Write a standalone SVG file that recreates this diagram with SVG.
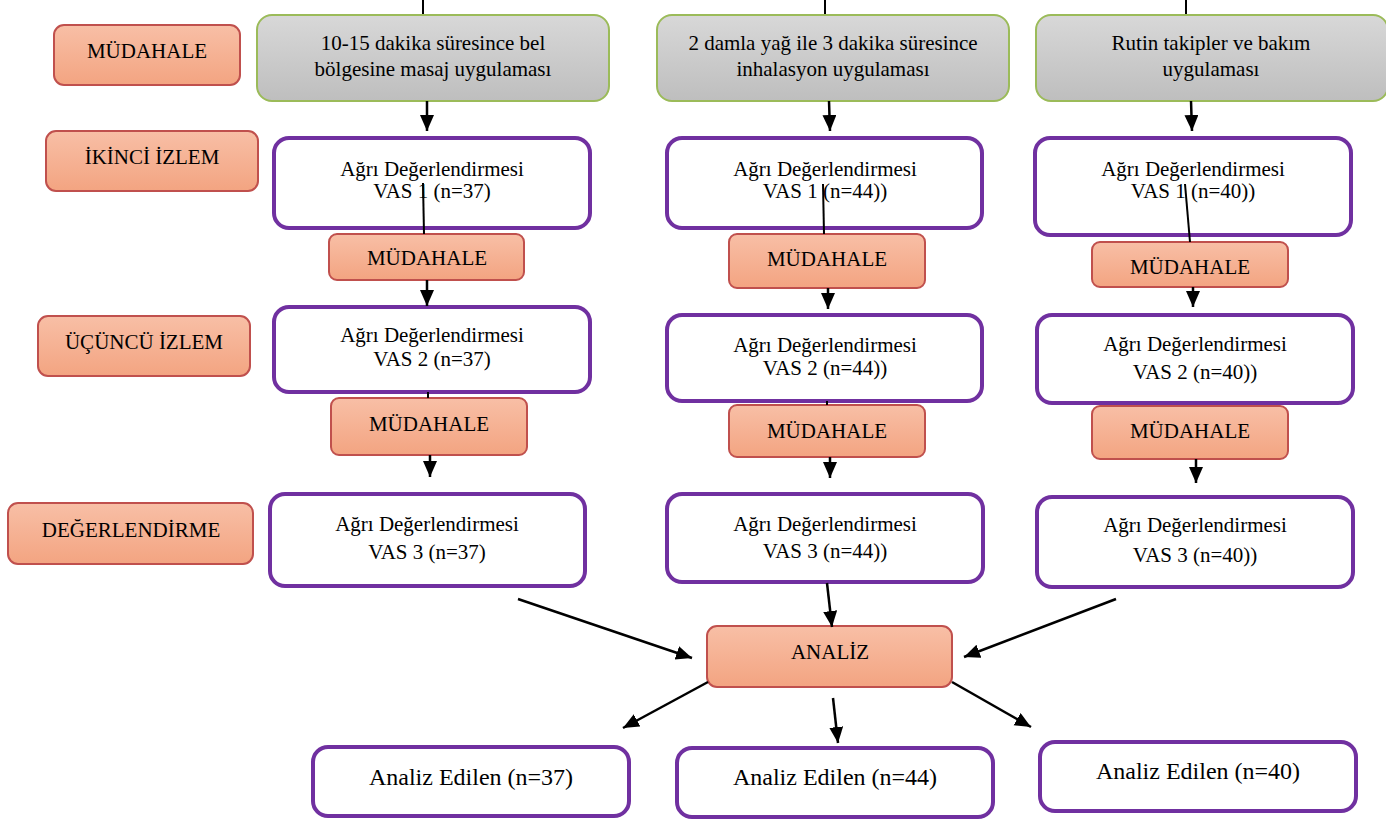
<svg xmlns="http://www.w3.org/2000/svg" width="1386" height="819" viewBox="0 0 1386 819">
<defs>
<linearGradient id="gOr" x1="0" y1="0" x2="0" y2="1">
<stop offset="0" stop-color="#F8BFA6"/><stop offset="1" stop-color="#F3A481"/>
</linearGradient>
<linearGradient id="gGr" x1="0" y1="0" x2="0" y2="1">
<stop offset="0" stop-color="#D8D8D8"/><stop offset="1" stop-color="#BEBEBE"/>
</linearGradient>
<marker id="ah" markerUnits="userSpaceOnUse" markerWidth="17" markerHeight="15" refX="16" refY="7" orient="auto">
<path d="M0,0 L16,7 L0,14 Z" fill="#000"/>
</marker>
</defs>
<style>
.or{fill:url(#gOr);stroke:#C0504D;stroke-width:2}
.gr{fill:url(#gGr);stroke:#9BBB59;stroke-width:2}
.pu{fill:#fff;stroke:#7030A0;stroke-width:4}
text{font-family:"Liberation Serif","Times New Roman",serif;font-size:21px;fill:#000;text-anchor:middle}
.big{font-size:24px}
.ln{stroke:#000;stroke-width:2;fill:none}
.ar{stroke:#000;stroke-width:2.5;fill:none;marker-end:url(#ah)}
</style>

<g id="lbl-mudahale"><rect class="or" x="54" y="25" width="186" height="60" rx="10"/><text x="147" y="58">MÜDAHALE</text></g>
<g id="lbl-ikinci"><rect class="or" x="46" y="131" width="212" height="60" rx="10"/><text x="152" y="164">İKİNCİ İZLEM</text></g>
<g id="lbl-ucuncu"><rect class="or" x="38" y="316" width="212" height="60" rx="10"/><text x="144" y="349">ÜÇÜNCÜ İZLEM</text></g>
<g id="lbl-deger"><rect class="or" x="8" y="503" width="245" height="61" rx="10"/><text x="131" y="537">DEĞERLENDİRME</text></g>

<g id="g1"><rect class="gr" x="257" y="15" width="352" height="86" rx="15"/><text x="433" y="50">10-15 dakika süresince bel</text><text x="433" y="76">bölgesine masaj uygulaması</text></g>
<g id="g2"><rect class="gr" x="657" y="15" width="352" height="86" rx="15"/><text x="833" y="50">2 damla yağ ile 3 dakika süresince</text><text x="833" y="76">inhalasyon uygulaması</text></g>
<g id="g3"><rect class="gr" x="1036" y="15" width="352" height="86" rx="15"/><text x="1211" y="50">Rutin takipler ve bakım</text><text x="1211" y="76">uygulaması</text></g>

<g id="p1"><rect class="pu" x="274" y="138" width="316" height="90" rx="15"/><text x="432" y="176">Ağrı Değerlendirmesi</text><text x="432" y="198">VAS 1 (n=37)</text></g>
<g id="p2"><rect class="pu" x="667" y="138" width="315" height="90" rx="15"/><text x="825" y="176">Ağrı Değerlendirmesi</text><text x="825" y="198">VAS 1 (n=44))</text></g>
<g id="p3"><rect class="pu" x="1035" y="138" width="316" height="97" rx="15"/><text x="1193" y="176">Ağrı Değerlendirmesi</text><text x="1193" y="198">VAS 1 (n=40))</text></g>

<g id="m1"><rect class="or" x="329" y="234" width="195" height="46" rx="8"/><text x="427" y="265">MÜDAHALE</text></g>
<g id="m2"><rect class="or" x="729" y="234" width="196" height="54" rx="8"/><text x="827" y="266">MÜDAHALE</text></g>
<g id="m3"><rect class="or" x="1092" y="242" width="196" height="45" rx="8"/><text x="1190" y="274">MÜDAHALE</text></g>

<g id="q1"><rect class="pu" x="274" y="307" width="316" height="85" rx="15"/><text x="432" y="342">Ağrı Değerlendirmesi</text><text x="432" y="366">VAS 2 (n=37)</text></g>
<g id="q2"><rect class="pu" x="667" y="315" width="315" height="86" rx="15"/><text x="825" y="352">Ağrı Değerlendirmesi</text><text x="825" y="375">VAS 2 (n=44))</text></g>
<g id="q3"><rect class="pu" x="1037" y="315" width="316" height="88" rx="15"/><text x="1195" y="351">Ağrı Değerlendirmesi</text><text x="1195" y="379">VAS 2 (n=40))</text></g>

<g id="m1b"><rect class="or" x="331" y="398" width="196" height="57" rx="8"/><text x="429" y="431">MÜDAHALE</text></g>
<g id="m2b"><rect class="or" x="729" y="405" width="196" height="52" rx="8"/><text x="827" y="438">MÜDAHALE</text></g>
<g id="m3b"><rect class="or" x="1092" y="406" width="196" height="53" rx="8"/><text x="1190" y="438">MÜDAHALE</text></g>

<g id="r1"><rect class="pu" x="270" y="494" width="315" height="92" rx="15"/><text x="427" y="531">Ağrı Değerlendirmesi</text><text x="427" y="559">VAS 3 (n=37)</text></g>
<g id="r2"><rect class="pu" x="667" y="494" width="316" height="88" rx="15"/><text x="825" y="531">Ağrı Değerlendirmesi</text><text x="825" y="558">VAS 3 (n=44))</text></g>
<g id="r3"><rect class="pu" x="1037" y="497" width="316" height="90" rx="15"/><text x="1195" y="532">Ağrı Değerlendirmesi</text><text x="1195" y="562">VAS 3 (n=40))</text></g>

<g id="analiz"><rect class="or" x="707" y="626" width="245" height="61" rx="10"/><text x="830" y="659">ANALİZ</text></g>

<g id="ae37"><rect class="pu" x="313" y="747" width="316" height="69" rx="15"/><text class="big" x="471" y="785">Analiz Edilen (n=37)</text></g>
<g id="ae44"><rect class="pu" x="677" y="748" width="316" height="69" rx="15"/><text class="big" x="835" y="785">Analiz Edilen (n=44)</text></g>
<g id="ae40"><rect class="pu" x="1040" y="742" width="316" height="69" rx="15"/><text class="big" x="1198" y="779">Analiz Edilen (n=40)</text></g>

<g id="connectors">
<line class="ln" x1="423" y1="0" x2="423" y2="14"/>
<line class="ln" x1="825" y1="0" x2="825" y2="14"/>
<line class="ln" x1="1186" y1="0" x2="1186" y2="14"/>
<line class="ar" x1="427" y1="101" x2="427" y2="131"/>
<line class="ar" x1="829" y1="101" x2="830" y2="131"/>
<line class="ar" x1="1191" y1="101" x2="1192" y2="131"/>
<line class="ln" x1="423" y1="183" x2="424" y2="234"/>
<line class="ln" x1="823" y1="184" x2="824" y2="234"/>
<line class="ln" x1="1185" y1="184" x2="1190" y2="242"/>
<line class="ar" x1="427" y1="280" x2="427" y2="306"/>
<line class="ar" x1="828" y1="288" x2="828" y2="309"/>
<line class="ar" x1="1193" y1="287" x2="1193" y2="307"/>
<line class="ln" x1="428" y1="392" x2="428" y2="398"/>
<line class="ln" x1="827" y1="401" x2="827" y2="405"/>
<line class="ar" x1="430" y1="455" x2="430" y2="477"/>
<line class="ar" x1="830" y1="457" x2="830" y2="478"/>
<line class="ar" x1="1196" y1="459" x2="1196" y2="483"/>
<line class="ar" x1="518" y1="599" x2="692" y2="658"/>
<line class="ar" x1="1116" y1="599" x2="964" y2="657"/>
<line class="ar" x1="827" y1="583" x2="832" y2="627"/>
<line class="ar" x1="708" y1="682" x2="623" y2="728"/>
<line class="ar" x1="833" y1="698" x2="838" y2="743"/>
<line class="ar" x1="952" y1="682" x2="1031" y2="727"/>
</g>
</svg>
